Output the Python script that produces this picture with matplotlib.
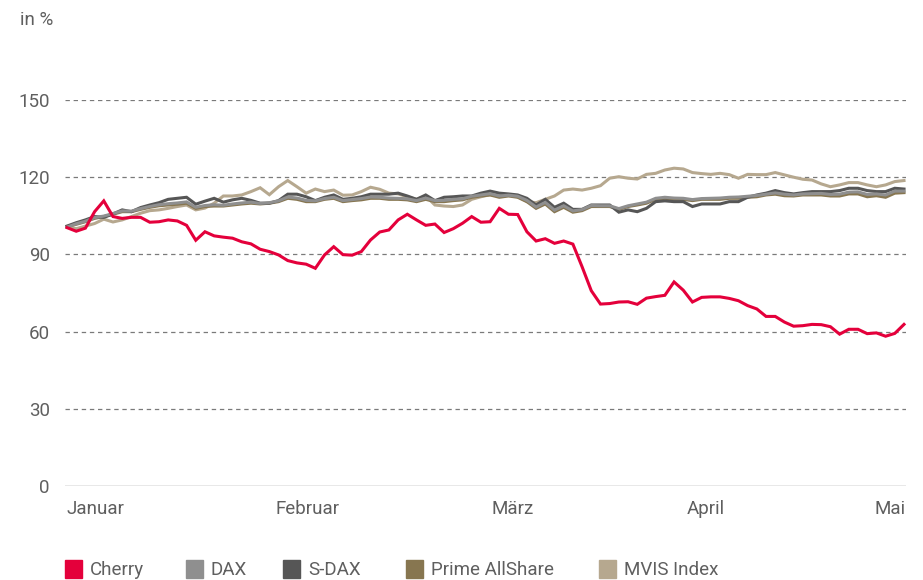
import matplotlib
matplotlib.use("Agg")
import matplotlib.pyplot as plt
from matplotlib.patches import Rectangle

# Werte in % (Start = 100), ein Punkt je Handelstag
cherry = [100.4, 99.0, 100.2, 106.6, 110.8, 104.7, 104.0, 104.4, 104.4, 102.5,
          102.7, 103.4, 103.0, 101.3, 95.5, 98.8, 97.2, 96.7, 96.3, 94.9,
          94.1, 92.0, 91.1, 89.8, 87.6, 86.7, 86.2, 84.6, 89.8, 93.0,
          89.9, 89.7, 91.1, 95.6, 98.7, 99.5, 103.4, 105.6, 103.4, 101.3,
          101.8, 98.5, 100.0, 102.1, 104.7, 102.5, 102.7, 107.9, 105.6, 105.5,
          98.8, 95.2, 96.1, 94.3, 95.2, 94.0, 85.2, 75.9, 70.7, 70.9,
          71.5, 71.6, 70.6, 73.0, 73.6, 74.1, 79.3, 76.1, 71.5, 73.3,
          73.5, 73.5, 72.9, 72.0, 70.1, 68.8, 65.9, 65.9, 63.7, 62.1,
          62.3, 62.8, 62.7, 61.9, 59.0, 60.9, 60.9, 59.2, 59.5, 58.2,
          59.3, 62.8]

dax = [100.6, 101.9, 102.9, 104.3, 104.9, 105.9, 106.9, 106.8, 107.8, 108.6,
       109.3, 109.7, 110.0, 110.4, 108.3, 109.0,
       109.3, 109.1, 109.6, 110.0, 110.3, 109.8, 110.1, 110.8, 112.3, 111.9,
       111.0, 110.8, 111.7, 112.2, 110.9,
       111.3, 111.7, 112.3, 112.2, 111.9, 111.8, 111.6, 110.9, 111.9, 110.9,
       111.0, 111.4, 111.6, 112.6, 113.1, 113.6,
       112.7, 113.0, 112.6, 111.0, 108.4, 110.2, 107.2, 108.9, 106.9, 107.4,
       109.0, 108.9, 108.9, 107.8, 108.9,
       109.6, 110.3, 111.8, 112.2, 111.9, 111.8, 111.3, 111.7, 111.8, 111.9,
       112.2, 112.3, 112.6, 112.9, 113.4,
       113.9, 113.4, 113.1, 113.5, 113.6, 113.7, 113.3, 113.4, 114.2, 114.3,
       113.3, 113.5, 113.1, 114.6, 114.6]

sdax = [101.0, 102.3, 103.4, 104.7, 104.4, 105.7, 107.3, 106.6, 108.2, 109.2,
        110.1, 111.4, 111.8, 112.2, 109.5, 110.7,
        111.8, 110.3, 111.2, 111.8, 111.0, 109.9, 109.9, 110.9, 113.4, 113.4,
        112.4, 110.9, 112.2, 113.1, 111.4,
        111.8, 112.4, 113.4, 113.4, 113.4, 113.8, 112.7, 111.4, 113.1, 110.9,
        112.2, 112.4, 112.7, 112.7, 113.8, 114.6,
        113.8, 113.5, 113.1, 111.8, 109.2, 111.4, 108.3, 109.9, 107.5, 107.5,
        109.2, 109.2, 109.2, 106.4, 107.3,
        106.6, 107.9, 110.5, 110.8, 110.5, 110.5, 108.6, 109.6, 109.6, 109.6,
        110.5, 110.5, 112.2, 113.1, 113.8,
        114.8, 114.0, 113.5, 114.0, 114.4, 114.4, 114.4, 114.8, 115.7, 115.7,
        114.8, 114.4, 114.4, 115.7, 115.4]

prime = [100.8, 101.7, 102.7, 104.0, 104.7, 105.6, 106.6, 106.6, 107.5, 108.3,
         108.9, 109.2, 109.5, 109.9, 107.9, 108.6,
         108.8, 108.8, 109.2, 109.6, 109.9, 109.6, 109.9, 110.5, 111.8, 111.4,
         110.5, 110.5, 111.4, 111.8, 110.5,
         110.9, 111.2, 111.8, 111.8, 111.4, 111.4, 111.2, 110.5, 111.4, 110.5,
         110.5, 110.9, 111.2, 112.2, 112.7, 113.1,
         112.2, 112.7, 112.2, 110.5, 107.9, 109.6, 106.6, 108.3, 106.4, 107.0,
         108.6, 108.6, 108.6, 107.5, 108.6,
         109.2, 109.9, 111.4, 111.8, 111.4, 111.4, 110.9, 111.4, 111.4, 111.4,
         111.8, 111.8, 112.2, 112.4, 113.1,
         113.4, 112.8, 112.7, 113.1, 113.1, 113.1, 112.7, 112.7, 113.5, 113.5,
         112.4, 112.8, 112.2, 113.8, 114.0]

mvis = [100.8, 100.0, 101.0, 102.0, 103.7, 102.6, 103.4, 104.7, 106.0, 107.0,
        107.3, 107.9, 108.6, 109.2, 107.3, 108.0,
        109.9, 112.7, 112.7, 113.1, 114.4, 115.9, 113.2, 116.3, 118.7, 116.3,
        113.8, 115.4, 114.4, 115.0, 113.0,
        113.1, 114.4, 116.1, 115.3, 113.8, 113.5, 112.4, 111.4, 112.7, 109.2,
        108.8, 108.6, 109.2, 111.4, 112.4, 113.2,
        112.7, 113.1, 112.4, 110.5, 110.1, 111.4, 112.7, 115.0, 115.4, 115.0,
        115.7, 116.7, 119.6, 120.2, 119.6,
        119.3, 121.1, 121.5, 122.8, 123.5, 123.2, 121.8, 121.4, 121.1, 121.5,
        121.0, 119.6, 121.1, 121.0, 121.0,
        121.8, 120.9, 120.0, 119.2, 118.9, 117.4, 116.3, 117.0, 117.9, 117.9,
        117.0, 116.3, 117.0, 118.3, 118.7]

names = ["Cherry", "DAX", "S-DAX", "Prime AllShare", "MVIS Index"]
colors = ["#e4003b", "#8f8f8f", "#565656", "#877650", "#b6a88f"]
series = [cherry, dax, sdax, prime, mvis]

months = ["Januar", "Februar", "März", "April", "Mai"]
month_pos = [0, 26.2, 48.5, 69.5, 91]
y_ticks = [0, 30, 60, 90, 120, 150]

font = ["Roboto", "DejaVu Sans"]
grey = "#5f5f5f"
fkw = dict(family=font, fontsize=13.5, color=grey)

fig = plt.figure(figsize=(9.23, 5.8), dpi=100)
ax = fig.add_axes([65 / 923, 94 / 580, 841 / 923, 386 / 580])

x = list(range(len(cherry)))
# zuerst die hellen Linien, Cherry obenauf
for i in [4, 3, 1, 2, 0]:
    ax.plot(x, series[i], color=colors[i], lw=2.2, solid_joinstyle="miter",
            zorder=3 + (4 - i), clip_on=False)

ax.set_xlim(-2 / 9.2, 91 + 2 / 9.2)
ax.set_ylim(0, 150)
for v in y_ticks[1:]:
    ax.axhline(v, color="#7a7a7a", lw=0.9, ls=(0, (3.5, 3)), zorder=1)
ax.axhline(0, color="#8a8a8a", lw=1.0, zorder=1)

for s in ax.spines.values():
    s.set_visible(False)
ax.set_yticks(y_ticks)
ax.set_yticklabels([str(v) for v in y_ticks], **fkw)
ax.tick_params(axis="y", length=0, pad=11)
ax.set_xticks([])

for i, (m, p) in enumerate(zip(months, month_pos)):
    ha = "left" if i == 0 else ("right" if i == len(months) - 1 else "center")
    xt = p - 0.05 if i == 0 else (p + 0.2 if ha == "right" else p)
    ax.text(xt, -5.5, m, ha=ha, va="top", **fkw)

fig.text(20 / 923, 1 - 20 / 580, "in %", ha="left", va="center", **fkw)

# Legende unten
leg_x = [65, 186, 283, 406, 599]
for name, c, lx in zip(names, colors, leg_x):
    fig.patches.append(Rectangle((lx / 923, 2 / 580), 17 / 923, 18 / 580,
                                 transform=fig.transFigure, color=c))
    fig.text((lx + 25) / 923, 10 / 580, name, ha="left", va="center", **fkw)

fig.savefig("out.png", dpi=100)
